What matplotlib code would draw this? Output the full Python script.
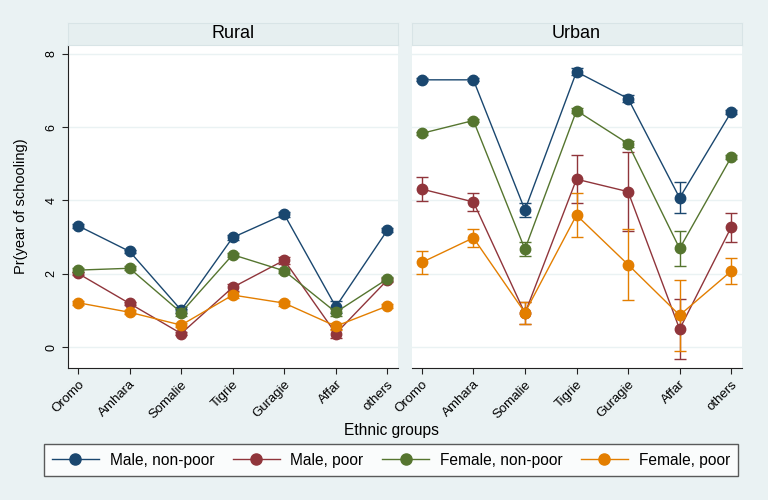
import numpy as np
import matplotlib.pyplot as plt

plt.rcParams['font.family'] = ['Liberation Sans', 'DejaVu Sans']

groups = ["Oromo", "Amhara", "Somalie", "Tigrie", "Guragie", "Affar", "others"]
series = ["Male, non-poor", "Male, poor", "Female, non-poor", "Female, poor"]
colors = ["#1a476f", "#90353b", "#55752f", "#e37e00"]

# predicted years of schooling, rural
rural = {
    "Male, non-poor":   [3.31, 2.61, 1.01, 2.99, 3.62, 1.10, 3.19],
    "Male, poor":       [2.01, 1.19, 0.37, 1.63, 2.37, 0.37, 1.83],
    "Female, non-poor": [2.10, 2.15, 0.94, 2.52, 2.08, 0.95, 1.86],
    "Female, poor":     [1.21, 0.95, 0.60, 1.42, 1.20, 0.57, 1.12],
}
rural_err = {
    "Male, non-poor":   [0.05, 0.05, 0.08, 0.07, 0.06, 0.17, 0.05],
    "Male, poor":       [0.05, 0.05, 0.05, 0.10, 0.09, 0.12, 0.05],
    "Female, non-poor": [0.05, 0.05, 0.10, 0.06, 0.05, 0.10, 0.05],
    "Female, poor":     [0.05, 0.05, 0.05, 0.09, 0.07, 0.10, 0.05],
}
# predicted years of schooling, urban
urban = {
    "Male, non-poor":   [7.29, 7.29, 3.74, 7.51, 6.78, 4.07, 6.41],
    "Male, poor":       [4.31, 3.96, 0.92, 4.58, 4.24, 0.49, 3.27],
    "Female, non-poor": [5.83, 6.18, 2.67, 6.45, 5.55, 2.69, 5.18],
    "Female, poor":     [2.31, 2.98, 0.94, 3.60, 2.25, 0.87, 2.07],
}
urban_err = {
    "Male, non-poor":   [0.04, 0.04, 0.18, 0.10, 0.10, 0.42, 0.06],
    "Male, poor":       [0.33, 0.25, 0.30, 0.66, 1.07, 0.82, 0.40],
    "Female, non-poor": [0.04, 0.04, 0.19, 0.07, 0.08, 0.48, 0.06],
    "Female, poor":     [0.32, 0.25, 0.30, 0.60, 0.96, 0.97, 0.36],
}

bg = "#eaf2f3"
W, H = 768, 500
fig = plt.figure(figsize=(7.68, 5.0), dpi=100, facecolor=bg)

def panel(left, title, data, err, first):
    ax = fig.add_axes([left / W, 132 / H, 330 / W, 323 / H], facecolor="white")
    x = np.arange(len(groups))
    for s, c in zip(series, colors):
        ax.errorbar(x, data[s], yerr=err[s], color=c, lw=1.0, marker="o",
                    markersize=7.5, capsize=4, elinewidth=1.0, capthick=1.0,
                    label=s, zorder=3)
    ax.set_xlim(-0.2, 6.2)
    ax.set_ylim(-0.57, 8.24)
    ax.set_yticks([0, 2, 4, 6, 8])
    ax.yaxis.grid(True, color=bg, lw=1.0)
    ax.set_axisbelow(True)
    ax.set_xticks(x)
    ax.set_xticklabels(groups, rotation=45, ha="right", rotation_mode="anchor",
                       fontsize=9.5)
    for sp in ["top", "right"]:
        ax.spines[sp].set_visible(False)
    ax.spines["bottom"].set_color("#222222")
    ax.tick_params(axis="x", length=4, color="#222222")
    if first:
        ax.spines["left"].set_color("#222222")
        ax.tick_params(axis="y", length=4, color="#222222", labelsize=9)
        for t in ax.get_yticklabels():
            t.set_rotation(90)
            t.set_va("center")
        ax.set_ylabel("Pr(year of schooling)", fontsize=10.5)
    else:
        ax.spines["left"].set_visible(False)
        ax.tick_params(axis="y", length=0, labelleft=False)
    strip = fig.add_axes([left / W, 455 / H, 330 / W, 22 / H], facecolor="#e6eff0")
    strip.set_xticks([])
    strip.set_yticks([])
    for sp in strip.spines.values():
        sp.set_color("#d8e4e6")
    strip.text(0.5, 0.5, title, ha="center", va="center", fontsize=13,
               transform=strip.transAxes)
    return ax

ax1 = panel(67.7, "Rural", rural, rural_err, True)
ax2 = panel(411.5, "Urban", urban, urban_err, False)
ax1.yaxis.set_label_coords(-0.12, 0.5)

fig.text(391 / W, 1 - 431 / H, "Ethnic groups", ha="center", va="center", fontsize=11.2)

handles = [plt.Line2D([], [], color=c, lw=1.0, marker="o", markersize=8) for c in colors]
leg = fig.legend(handles, series, ncol=4, loc="center", bbox_to_anchor=(391 / W, 1 - 460 / H),
                 fontsize=11.2, frameon=True, fancybox=False, edgecolor="#333333",
                 handlelength=3.0, handletextpad=0.7, columnspacing=1.2,
                 borderpad=0.55, borderaxespad=0)
leg.get_frame().set_linewidth(1.0)
leg.get_frame().set_facecolor("white")

fig.savefig("out.png", dpi=100, facecolor=bg)
